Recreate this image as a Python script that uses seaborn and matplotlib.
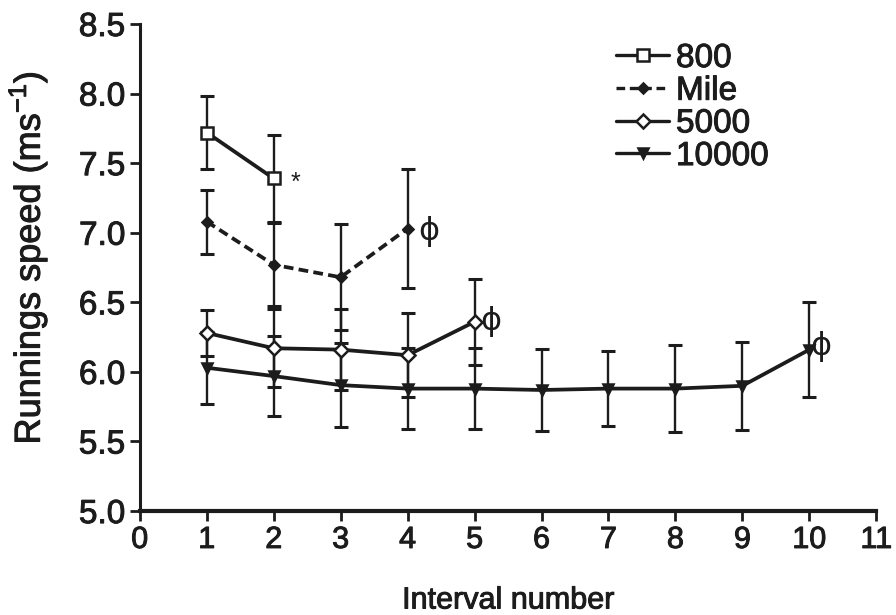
import numpy as np
import pandas as pd
import matplotlib
matplotlib.use("Agg")
import matplotlib.pyplot as plt
import matplotlib.patheffects as pe
import seaborn as sns

# values
x_800 = [1, 2]
y_800 = [7.72, 7.39]
e_800 = [0.26, 0.31]

x_mile = [1, 2, 3, 4]
y_mile = [7.08, 6.77, 6.68, 7.03]
e_mile = [0.23, 0.30, 0.38, 0.43]

x_5000 = [1, 2, 3, 4, 5]
y_5000 = [6.28, 6.17, 6.16, 6.12, 6.36]
e_5000 = [0.165, 0.28, 0.29, 0.30, 0.31]

x_10000 = [1, 2, 3, 4, 5, 6, 7, 8, 9, 10]
y_10000 = [6.03, 5.97, 5.905, 5.88, 5.88, 5.87, 5.88, 5.88, 5.90, 6.16]
e_10000 = [0.26, 0.29, 0.30, 0.29, 0.29, 0.295, 0.27, 0.31, 0.315, 0.34]

sns.set_style("ticks")
plt.rcParams['font.family'] = ['Liberation Sans', 'DejaVu Sans']

col = '#1c1c1c'
bleed = [pe.withStroke(linewidth=0.7, foreground=col)]

fig = plt.figure(figsize=(8.96, 6.15), dpi=100)
ax = fig.add_axes([0.156, 0.169, 0.822, 0.792])

series = [
    ("800", x_800, y_800, e_800, dict(marker='s', ms=8.5, mfc='white', ls='-')),
    ("Mile", x_mile, y_mile, e_mile, dict(marker='D', ms=5, mfc=col, ls=(0, (2.6, 1.4)))),
    ("5000", x_5000, y_5000, e_5000, dict(marker='D', ms=7.5, mfc='white', ls='-')),
    ("10000", x_10000, y_10000, e_10000, dict(marker='v', ms=7, mfc=col, ls='-')),
]

for name, xs, ys, es, st in series:
    ax.errorbar(xs, ys, yerr=es, fmt='none', ecolor=col, elinewidth=1.7,
                capsize=5, capthick=2.2, zorder=2)
    df = pd.DataFrame({'x': xs, 'y': ys})
    sns.lineplot(data=df, x='x', y='y', ax=ax, color=col, linewidth=2.7,
                 marker=st['marker'], markersize=st['ms'],
                 markerfacecolor=st['mfc'], markeredgecolor=col,
                 markeredgewidth=1.8, linestyle=st['ls'], label=name,
                 zorder=3)

# significance marks
ax.text(2.33, 7.36, "*", fontsize=18, ha='center', va='center', color=col)
for xp, yp in [(4.32, 7.01), (5.24, 6.36), (10.17, 6.18)]:
    ax.text(xp, yp, "ϕ", fontsize=23, ha='center', va='center', color=col,
            family='DejaVu Sans')

ax.set_xlim(0, 11)
ax.set_ylim(5.0, 8.5)
ax.set_xticks(range(0, 12))
ax.set_yticks(np.arange(5.0, 8.51, 0.5))
ax.set_yticklabels([f"{v:.1f}" for v in np.arange(5.0, 8.51, 0.5)])
ax.tick_params(axis='both', width=2.0, color=col, labelcolor=col)
ax.tick_params(axis='x', labelsize=22, length=7, pad=3)
ax.tick_params(axis='y', labelsize=24, length=7.5, pad=3)
ax.set_xlabel("Interval number", fontsize=22, color=col, labelpad=22)
ax.set_ylabel("Runnings speed (ms$^{\\mathregular{-1}}$)", fontsize=26, color=col, labelpad=10)
ax.yaxis.set_label_coords(-0.122, 0.52)

for t in ax.get_xticklabels() + ax.get_yticklabels() + [ax.xaxis.label, ax.yaxis.label]:
    t.set_path_effects(bleed)

sns.despine(ax=ax)
ax.spines['left'].set_linewidth(2.2)
ax.spines['bottom'].set_linewidth(3.0)
ax.spines['left'].set_color(col)
ax.spines['bottom'].set_color(col)

leg = ax.legend(loc='upper left', bbox_to_anchor=(0.6875, 0.93),
                bbox_transform=fig.transFigure, frameon=False,
                fontsize=24, handlelength=1.6, handletextpad=0.2, labelspacing=0.05,
                borderaxespad=0, borderpad=0)
for t in leg.get_texts():
    t.set_color(col)
    t.set_path_effects(bleed)
for h in leg.legend_handles:
    h.set_linewidth(2.4)

fig.savefig("out.png", dpi=100)
